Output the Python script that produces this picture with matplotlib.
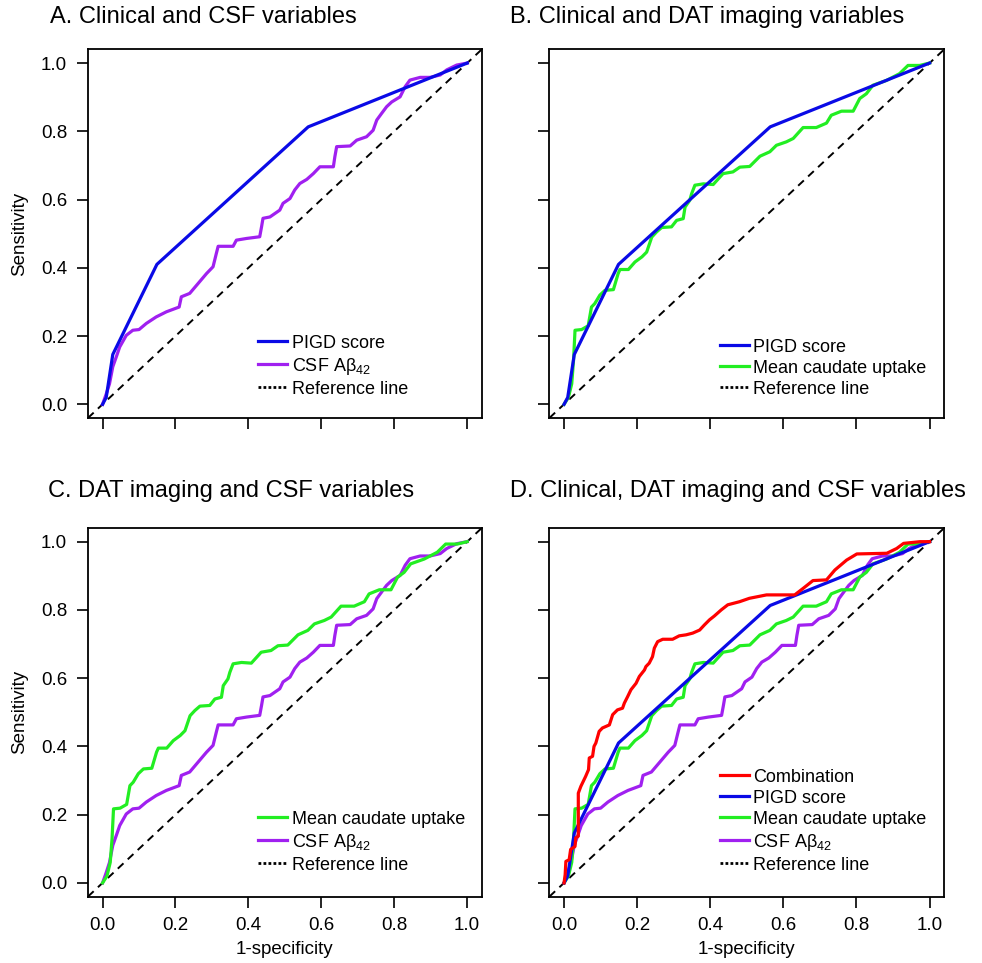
import matplotlib.pyplot as plt
from matplotlib.lines import Line2D

plt.rcParams['font.family'] = ['Liberation Sans', 'DejaVu Sans']
plt.rcParams['mathtext.fontset'] = 'custom'
plt.rcParams['mathtext.rm'] = 'Liberation Sans'

# ROC curves (1-specificity, sensitivity)
pigd_x = [0, 0.01, 0.028, 0.149, 0.564, 1.0]
pigd_y = [0, 0.02, 0.146, 0.41, 0.813, 1.0]

csf_x = [0, 0.01, 0.019, 0.028, 0.038, 0.047, 0.065, 0.083, 0.10, 0.12, 0.147, 0.175,
         0.21, 0.216, 0.239, 0.262, 0.285, 0.303, 0.312, 0.317, 0.358, 0.367, 0.395,
         0.431, 0.436, 0.44, 0.459, 0.486, 0.495, 0.514, 0.527, 0.541, 0.56, 0.578,
         0.596, 0.633, 0.637, 0.642, 0.679, 0.697, 0.724, 0.742, 0.752, 0.765, 0.779,
         0.793, 0.816, 0.83, 0.843, 0.871, 0.898, 0.926, 0.944, 0.971, 1.0]
csf_y = [0, 0.03, 0.06, 0.11, 0.14, 0.168, 0.202, 0.217, 0.219, 0.237, 0.256, 0.271,
         0.285, 0.315, 0.325, 0.354, 0.383, 0.403, 0.442, 0.463, 0.463, 0.481, 0.486,
         0.491, 0.52, 0.545, 0.549, 0.569, 0.589, 0.603, 0.628, 0.647, 0.659, 0.676,
         0.696, 0.696, 0.725, 0.755, 0.757, 0.774, 0.784, 0.803, 0.833, 0.852, 0.872,
         0.886, 0.901, 0.931, 0.95, 0.958, 0.958, 0.965, 0.98, 0.994, 1.0]

caud_x = [0, 0.012, 0.021, 0.026, 0.03, 0.048, 0.066, 0.075, 0.084, 0.098, 0.112, 0.135,
          0.148, 0.153, 0.176, 0.194, 0.213, 0.226, 0.24, 0.253, 0.267, 0.294, 0.308,
          0.326, 0.331, 0.344, 0.349, 0.358, 0.381, 0.408, 0.435, 0.462, 0.481, 0.508,
          0.536, 0.563, 0.581, 0.608, 0.627, 0.654, 0.69, 0.718, 0.731, 0.759, 0.791,
          0.809, 0.827, 0.845, 0.882, 0.918, 0.941, 0.973, 1.0]
caud_y = [0, 0.02, 0.06, 0.13, 0.217, 0.219, 0.23, 0.285, 0.295, 0.32, 0.334, 0.336,
          0.383, 0.395, 0.395, 0.417, 0.432, 0.446, 0.49, 0.505, 0.518, 0.52, 0.539,
          0.544, 0.578, 0.598, 0.617, 0.642, 0.646, 0.644, 0.676, 0.681, 0.695, 0.697,
          0.727, 0.74, 0.759, 0.769, 0.779, 0.811, 0.811, 0.824, 0.847, 0.859, 0.859,
          0.896, 0.91, 0.935, 0.949, 0.969, 0.993, 0.993, 1.0]

comb_x = [0, 0.003, 0.005, 0.014, 0.018, 0.03, 0.032, 0.039, 0.039, 0.046, 0.059, 0.067,
          0.069, 0.078, 0.082, 0.087, 0.096, 0.105, 0.124, 0.133, 0.146, 0.16, 0.165,
          0.174, 0.183, 0.197, 0.206, 0.22, 0.224, 0.233, 0.242, 0.247, 0.256, 0.27,
          0.297, 0.315, 0.334, 0.352, 0.371, 0.384, 0.398, 0.411, 0.43, 0.448, 0.48,
          0.507, 0.554, 0.631, 0.654, 0.681, 0.718, 0.741, 0.773, 0.801, 0.883, 0.91,
          0.929, 0.974, 1.0]
comb_y = [0, 0.024, 0.063, 0.068, 0.098, 0.107, 0.132, 0.137, 0.263, 0.283, 0.312, 0.332,
          0.366, 0.371, 0.40, 0.41, 0.444, 0.454, 0.463, 0.493, 0.507, 0.512, 0.527,
          0.546, 0.566, 0.585, 0.605, 0.624, 0.634, 0.644, 0.663, 0.688, 0.707, 0.714,
          0.714, 0.724, 0.727, 0.732, 0.741, 0.756, 0.771, 0.782, 0.80, 0.815, 0.824,
          0.834, 0.844, 0.844, 0.863, 0.886, 0.888, 0.917, 0.946, 0.964, 0.966, 0.98,
          0.995, 1.0, 1.0]

titles = ['A. Clinical and CSF variables', 'B. Clinical and DAT imaging variables',
          'C. DAT imaging and CSF variables', 'D. Clinical, DAT imaging and CSF variables']
ticks = [0.0, 0.2, 0.4, 0.6, 0.8, 1.0]

RED, BLUE, GREEN, PURPLE = '#ff0000', '#0a0ae6', '#22ee22', '#a020f0'
lab_pigd, lab_caud, lab_csf = 'PIGD score', 'Mean caudate uptake', r'CSF A$\mathregular{β_{42}}$'

fig = plt.figure(figsize=(9.82, 9.63), dpi=100)
boxes = [[0.0896, 0.566, 0.401, 0.3827], [0.5595, 0.566, 0.402, 0.3827],
         [0.0896, 0.069, 0.401, 0.3827], [0.5595, 0.069, 0.402, 0.3827]]
axes = [fig.add_axes(b) for b in boxes]

panels = [
    [(pigd_x, pigd_y, BLUE, lab_pigd), (csf_x, csf_y, PURPLE, lab_csf)],
    [(pigd_x, pigd_y, BLUE, lab_pigd), (caud_x, caud_y, GREEN, lab_caud)],
    [(caud_x, caud_y, GREEN, lab_caud), (csf_x, csf_y, PURPLE, lab_csf)],
    [(comb_x, comb_y, RED, 'Combination'), (pigd_x, pigd_y, BLUE, lab_pigd),
     (caud_x, caud_y, GREEN, lab_caud), (csf_x, csf_y, PURPLE, lab_csf)],
]
leg_y = [0.055, 0.055, 0.062, 0.062]

for i, ax in enumerate(axes):
    ax.plot([-0.04, 1.04], [-0.04, 1.04], color='black', lw=1.4, ls=(0, (4, 3)))
    handles = []
    # draw in reverse so the first series sits on top
    for x, y, c, lab in reversed(panels[i]):
        ax.plot(x, y, color=c, lw=2.3)
    for x, y, c, lab in panels[i]:
        handles.append(Line2D([], [], color=c, lw=2.3, label=lab))
    handles.append(Line2D([], [], color='black', lw=2, ls=(0, (1, 0.8)), label='Reference line'))
    ax.legend(handles=handles, loc='lower left', bbox_to_anchor=(0.432, leg_y[i]),
              frameon=False, fontsize=13, handlelength=1.6, handletextpad=0.25,
              labelspacing=0.22, borderpad=0, borderaxespad=0)
    ax.set_xlim(-0.04, 1.04)
    ax.set_ylim(-0.04, 1.04)
    ax.set_xticks(ticks)
    ax.set_yticks(ticks)
    for s in ax.spines.values():
        s.set_linewidth(1.3)
    ax.tick_params(direction='out', length=8, width=1.2, pad=7, labelsize=13.5)
    if i in (0, 1):
        ax.set_xticklabels([])
    else:
        ax.set_xticklabels(['%.1f' % t for t in ticks])
        ax.set_xlabel('1-specificity', fontsize=13.5, labelpad=5)
    if i in (1, 3):
        ax.set_yticklabels([])
    else:
        ax.set_yticklabels(['%.1f' % t for t in ticks])
        ax.set_ylabel('Sensitivity', fontsize=13.5, labelpad=9)

fig.text(0.051, 0.982, titles[0], fontsize=17, va='center')
fig.text(0.519, 0.982, titles[1], fontsize=17, va='center')
fig.text(0.049, 0.490, titles[2], fontsize=17, va='center')
fig.text(0.519, 0.490, titles[3], fontsize=17, va='center')

fig.savefig('out.png', dpi=100)
